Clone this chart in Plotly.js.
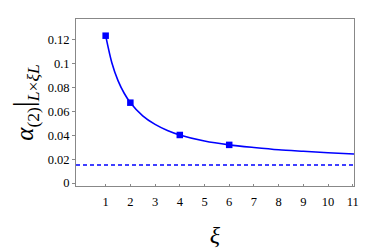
<!DOCTYPE html>
<html>
<head>
<meta charset="utf-8">
<script src="https://cdn.plot.ly/plotly-3.0.1.min.js"></script>
<style>html,body{margin:0;padding:0;background:#fff;}#chart{width:375px;height:251px;}</style>
</head>
<body>
<div id="chart"></div>
<script>
// measured points
const xi = [1, 2, 4, 6];
const alphaVals = [0.1236, 0.0674, 0.0403, 0.0320];
// fitted curve, values
const curveX = [1, 1.25, 1.5, 1.75, 2, 2.5, 3, 3.5, 4, 5, 6, 7, 8, 9, 10, 11.05];
const curveY = [0.1236, 0.1009, 0.0859, 0.0753, 0.0674, 0.0564, 0.0492, 0.0441, 0.0403, 0.0352, 0.0320, 0.0298, 0.0279, 0.0266, 0.0254, 0.0243];
// asymptote (dashed)
const asymX = [-0.2, 11.05];
const asymY = [0.0151, 0.0151];
const xTicks = [1, 2, 3, 4, 5, 6, 7, 8, 9, 10, 11];
const yTicks = [0, 0.02, 0.04, 0.06, 0.08, 0.1, 0.12];
const yTickText = ['0', '0.02', '0.04', '0.06', '0.08', '0.1', '0.12'];

const blue = '#0000ff';
const serif = 'Liberation Serif, DejaVu Serif, serif';

const data = [
  {x: asymX, y: asymY, mode: 'lines', line: {color: blue, width: 1.4, dash: '4px,3px'}, hoverinfo: 'skip'},
  {x: curveX, y: curveY, mode: 'lines', line: {color: blue, width: 1.6, shape: 'spline', smoothing: 0.8}},
  {x: xi, y: alphaVals, mode: 'markers', marker: {symbol: 'square', size: 6.5, color: blue}}
];

const layout = {
  width: 375, height: 251,
  margin: {l: 76, r: 21, t: 19, b: 65},
  showlegend: false,
  paper_bgcolor: '#fff', plot_bgcolor: '#fff',
  font: {family: serif, size: 12, color: '#000'},
  xaxis: {
    range: [-0.2, 11.05], tickvals: xTicks, ticks: 'inside', ticklen: 2, tickcolor: '#888',
    ticklabelstandoff: 4,
    showgrid: false, zeroline: false, showline: true, linecolor: '#888', linewidth: 1, mirror: true,
    tickfont: {family: serif, size: 12.5},
    title: {text: '<i>ξ</i>', font: {family: serif, size: 24}, standoff: 18}
  },
  yaxis: {
    range: [-0.0025, 0.1376], tickvals: yTicks, ticktext: yTickText, ticks: 'outside', ticklen: 3, tickcolor: '#888',
    showgrid: false, zeroline: false, showline: true, linecolor: '#888', linewidth: 1, mirror: true,
    tickfont: {family: serif, size: 12.5},
    title: {text: '<i>α</i><sub>(2)</sub><span style="font-size:30px">|</span><sub><i>L</i>×<i>ξL</i></sub>', font: {family: serif, size: 25}, standoff: 6}
  }
};

Plotly.newPlot('chart', data, layout, {staticPlot: true, displayModeBar: false});
</script>
</body>
</html>
